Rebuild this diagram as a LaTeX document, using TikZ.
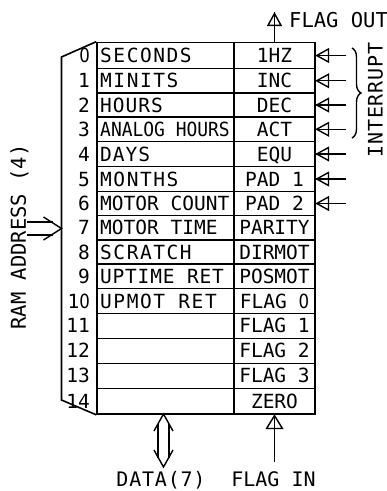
\documentclass[tikz,border=0pt]{standalone}
\usepackage{fontspec}
\usetikzlibrary{arrows.meta,decorations.pathreplacing,calc}
\newfontfamily\lett{DejaVu Sans Mono}
\newfontfamily\zlett[FakeStretch=0.85]{DejaVu Sans}
\newcommand{\zr}{{\zlett 0}}
\newcommand{\wide}[2]{{\addfontfeature{LetterSpace=#1}#2}}
\begin{document}
\begin{tikzpicture}[x=1pt,y=-1pt,
  boxline/.style={line width=1.6pt},
  arr/.style={line width=1.4pt},
  tri/.style={-{Triangle[open,length=14pt,width=15pt,line width=1.4pt]}},
  trib/.style={-{Triangle[open,length=15pt,width=18pt,line width=1.4pt]}},
  txt/.style={font=\lett\fontsize{19.5}{20}\selectfont, inner sep=0pt, text height=14.2pt, text depth=0pt},
  big/.style={font=\lett\fontsize{20.5}{22}\selectfont, inner sep=0pt, text height=15pt, text depth=0pt}]
\useasboundingbox (0,0) rectangle (387,491);

% main table
\node[draw, boxline, minimum width=218pt, minimum height=371.5pt, inner sep=0pt] (tbl) at (206,228.25) {};
\draw[boxline] (234,42.5) -- (234,414);

% trapezoid (address decoder)
\coordinate (tz1) at (61.5,57);
\coordinate (tz2) at (61.5,400);
\draw[boxline] (tbl.north west) -- (tz1) -- (tz2) -- (tbl.south west);

\foreach \i/\t/\b/\num/\name/\flag in {
  0/42.5/68.5/\zr/{\wide{8}{SECONDS}}/1HZ,
  1/68.5/93/1/{\wide{8}{MINITS}}/INC,
  2/93/117/2/{\wide{5}{HOURS}}/DEC,
  3/117/141.5/3/{\scalebox{0.92}[1]{ANALOG HOURS}}/ACT,
  4/141.5/166.5/4/{\wide{5}{DAYS}}/EQU,
  5/166.5/191.5/5/{\wide{8}{MONTHS}}/PAD 1,
  6/191.5/215.5/6/MOTOR COUNT/PAD 2,
  7/215.5/240/7/MOTOR TIME/PARITY,
  8/240/264/8/{\wide{8}{SCRATCH}}/DIRMOT,
  9/264/288.5/9/{\wide{4}{UPTIME RET}}/POSMOT,
  10/288.5/313.3/1\zr/{\wide{8}{UPMOT RET}}/FLAG \zr,
  11/313.3/338.3/11//FLAG 1,
  12/338.3/363.3/12//FLAG 2,
  13/363.3/388.3/13//FLAG 3,
  14/388.3/414/14//ZERO}{
  \pgfmathsetmacro{\c}{(\t+\b)/2}
  \pgfmathsetmacro{\h}{\b-\t}
  \ifnum\i>0 \draw[boxline] (97,\t) -- (315,\t); \fi
  \node[txt, anchor=east] (n\i) at (90,\c) {\num};
  \node[txt, anchor=west] (l\i) at (100,\c) {\name};
  \node[txt, minimum width=81pt, minimum height=\h pt] (f\i) at (274.5,\c) {\flag};
}

% interrupt arrows
\foreach \i in {0,...,6}{
  \coordinate (in\i) at ($(f\i.east)+(31,0)$);
  \draw[arr] (in\i) -- (f\i.east);
  \draw[arr,tri] (in\i) -- (f\i.east);
}
\draw[arr, decorate, decoration={brace, amplitude=9pt}] (352,48) -- (352,138);
\node[big, rotate=90, font=\lett\fontsize{20}{22}\selectfont] (intr) at (375,100) {\wide{4}{INTERRUPT}};

% flag out
\coordinate (fo) at (274.5,12);
\draw[arr] (f0.north) -- (fo);
\draw[arr,tri] (f0.north) -- (fo);
\node[big, anchor=west] (flagout) at (289,19.5) {FLAG OUT};

% flag in
\coordinate (fi) at (274.5,462);
\draw[arr] (fi) -- (f14.south);
\draw[arr,trib] (fi) -- (f14.south);
\node[big, font=\lett\fontsize{20}{22}\selectfont] (flagin) at (273.5,478.5) {FLAG IN};

% data bus
\coordinate (dtop) at (163.5,414);
\coordinate (dbot) at (163.5,467);
\draw[arr] ($(dtop)+(-9.5,17)$) -- (dtop) -- ($(dtop)+(9.5,17)$);
\draw[arr] ($(dbot)+(-9.5,-17)$) -- (dbot) -- ($(dbot)+(9.5,-17)$);
\draw[arr] ($(dtop)+(-5.5,9.5)$) -- ($(dbot)+(-5.5,-9.5)$);
\draw[arr] ($(dtop)+(5.5,9.5)$) -- ($(dbot)+(5.5,-9.5)$);
\node[big, font=\lett\fontsize{20}{22}\selectfont] (data) at (161,478.5) {\wide{4}{DATA(7)}};

% ram address
\coordinate (rtip) at (61.5,228.5);
\coordinate (rtail) at (27,228.5);
\draw[arr] ($(rtip)+(-18,-11.5)$) -- (rtip) -- ($(rtip)+(-18,11.5)$);
\draw[arr] ($(rtail)+(0,-6.5)$) -- ($(rtip)+(-9,-6.5)$);
\draw[arr] ($(rtail)+(0,6.5)$) -- ($(rtip)+(-9,6.5)$);
\node[big, rotate=90] (ramaddr) at (18.5,237) {RAM ADDRESS (4)};
\end{tikzpicture}
\end{document}
